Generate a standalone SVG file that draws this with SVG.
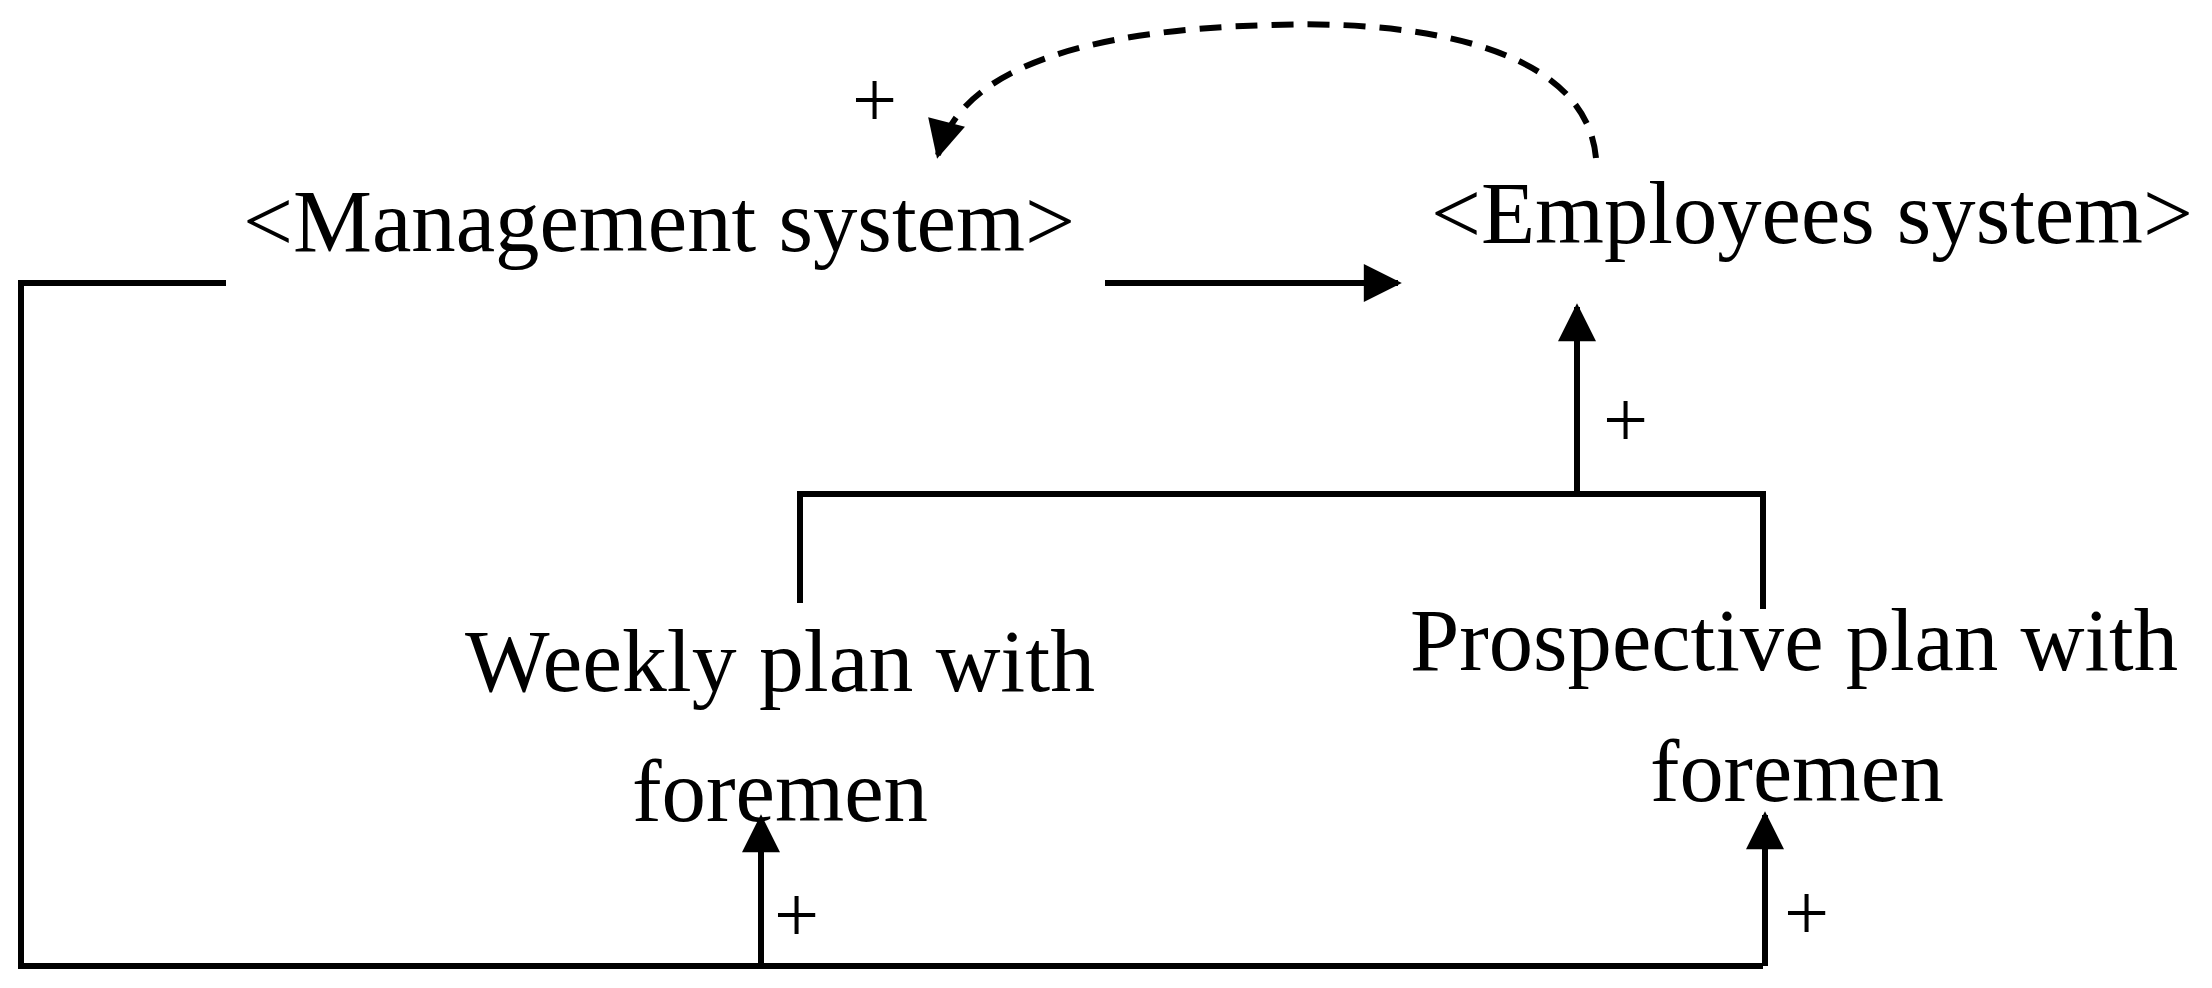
<svg xmlns="http://www.w3.org/2000/svg" width="2212" height="988" viewBox="0 0 2212 988">
<style>
text{font-family:"Liberation Serif","Times New Roman",serif;font-size:88px;fill:#000}
.l{stroke:#000;stroke-width:6;fill:none}
.p{font-size:80px}
</style>
<defs>
<marker id="b" viewBox="0 0 10 10" refX="9" refY="5" markerWidth="46" markerHeight="38" orient="auto" markerUnits="userSpaceOnUse"><path d="M0,0L10,5L0,10z"/></marker></defs>
<rect width="2212" height="988" fill="#fff"/>
<g id="management"><text x="243" y="251" textLength="832" lengthAdjust="spacingAndGlyphs">&lt;Management system&gt;</text></g>
<g id="employees"><text x="1431" y="243" textLength="762" lengthAdjust="spacingAndGlyphs">&lt;Employees system&gt;</text></g>
<g id="weekly"><text x="465" y="691" textLength="630" lengthAdjust="spacingAndGlyphs">Weekly plan with</text><text x="632" y="821" textLength="296" lengthAdjust="spacingAndGlyphs">foremen</text></g>
<g id="prospective"><text x="1410" y="670" textLength="768" lengthAdjust="spacingAndGlyphs">Prospective plan with</text><text x="1650" y="801" textLength="294" lengthAdjust="spacingAndGlyphs">foremen</text></g>
<g id="connectors">
<path class="l" d="M226,283H21V966H1763"/>
<path class="l" d="M1105,283H1398" marker-end="url(#b)"/>
<path class="l" d="M800,603V494H1763V609"/>
<path class="l" d="M1577,494V307" marker-end="url(#b)"/>
<path class="l" d="M761,966V818" marker-end="url(#b)"/>
<path class="l" d="M1765,966V815" marker-end="url(#b)"/>
<path class="l" stroke-dasharray="22,14" d="M1596,158C1585,40 1400,20 1270,25C1080,30 960,70 938,155" marker-end="url(#b)"/>
<text class="p" x="852" y="127">+</text>
<text class="p" x="1603" y="447">+</text>
<text class="p" x="774" y="942">+</text>
<text class="p" x="1784" y="940">+</text>
</g>
</svg>
